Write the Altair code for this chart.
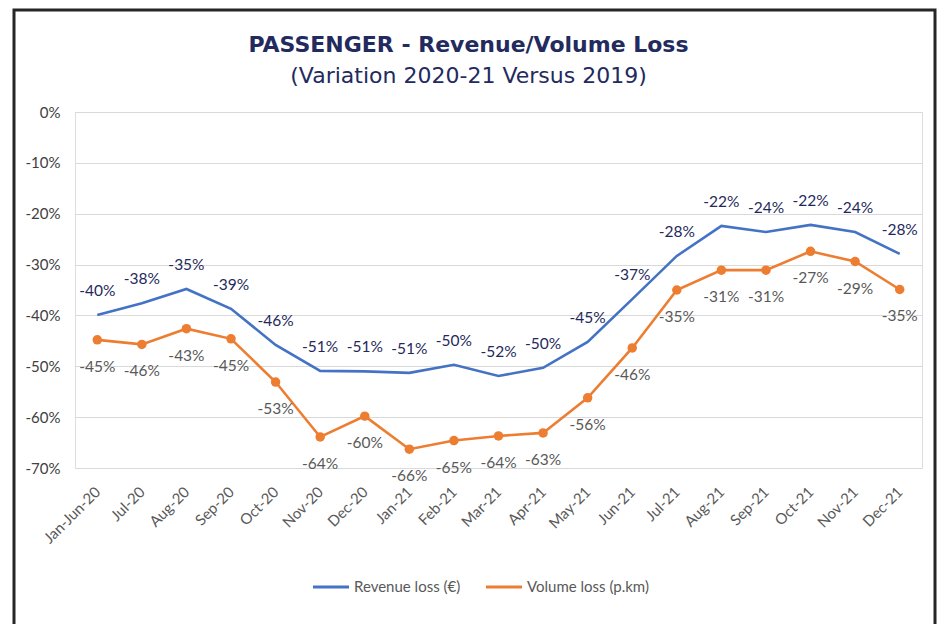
import altair as alt
import pandas as pd

categories = ["Jan-Jun-20", "Jul-20", "Aug-20", "Sep-20", "Oct-20", "Nov-20", "Dec-20",
              "Jan-21", "Feb-21", "Mar-21", "Apr-21", "May-21", "Jun-21", "Jul-21",
              "Aug-21", "Sep-21", "Oct-21", "Nov-21", "Dec-21"]
revenue_loss = [-39.9, -37.6, -34.8, -38.7, -45.8, -50.9, -51.0, -51.3, -49.7, -51.9,
                -50.3, -45.2, -36.8, -28.3, -22.4, -23.6, -22.2, -23.6, -27.9]
volume_loss = [-44.8, -45.7, -42.6, -44.6, -53.1, -63.9, -59.8, -66.3, -64.6, -63.7,
               -63.1, -56.2, -46.4, -35.0, -31.1, -31.1, -27.4, -29.4, -34.9]
series_names = ["Revenue loss (€)", "Volume loss (p.km)"]
y_ticks = [0, -0.1, -0.2, -0.3, -0.4, -0.5, -0.6, -0.7]

rows = []
for name, vals in zip(series_names, [revenue_loss, volume_loss]):
    for c, v in zip(categories, vals):
        rows.append({"cat": c, "series": name, "val": v / 100.0,
                     "label": f"{int(round(v))}%"})
df = pd.DataFrame(rows)

LABEL_FONT = "Lato"
TITLE_FONT = "DejaVu Sans"

x = alt.X("cat:N", sort=categories, title=None,
          scale=alt.Scale(type="point", padding=0.5),
          axis=alt.Axis(labelAngle=-45, labelAlign="right", labelBaseline="middle",
                        labelPadding=21, ticks=False, domain=False, grid=False,
                        labelFont=LABEL_FONT, labelFontSize=15, labelColor="#595959"))
y = alt.Y("val:Q", title=None,
          scale=alt.Scale(domain=[-0.7, 0], nice=False, zero=False),
          axis=alt.Axis(values=y_ticks, labelExpr="round(datum.value*100) + '%'",
                        ticks=False, domain=False, grid=True, gridColor="#D9D9D9",
                        gridWidth=1, labelPadding=15, labelFont=LABEL_FONT,
                        labelFontSize=15, labelColor="#404040"))

color = alt.Color("series:N", title=None,
                  scale=alt.Scale(domain=series_names, range=["#4472C4", "#ED7D31"]),
                  legend=alt.Legend(orient="none", legendX=236, legendY=455,
                                    direction="horizontal", symbolType="stroke",
                                    symbolSize=1300, symbolStrokeWidth=3,
                                    labelFont=LABEL_FONT, labelFontSize=15,
                                    labelColor="#595959", labelOffset=3,
                                    columnPadding=18))

base = alt.Chart(df)

lines = base.mark_line(strokeWidth=2.6).encode(x=x, y=y, color=color)
points = base.transform_filter(alt.datum.series == series_names[1]).mark_circle(
    size=90, opacity=1, color="#ED7D31").encode(x=x, y=y)

rev_text = base.transform_filter(alt.datum.series == series_names[0]).mark_text(
    dy=-24, font=LABEL_FONT, fontSize=15.5, color="#1F2A5C").encode(x=x, y=y, text="label:N")
vol_text = base.transform_filter(alt.datum.series == series_names[1]).mark_text(
    dy=27, font=LABEL_FONT, fontSize=15.5, color="#595959").encode(x=x, y=y, text="label:N")

frame = alt.Chart(pd.DataFrame({"k": [0]})).mark_rect(
    filled=False, stroke="#262626", strokeWidth=3).encode(
    x=alt.value(-61), x2=alt.value(860), y=alt.value(-102), y2=alt.value(600))

chart = alt.layer(frame, lines, points, rev_text, vol_text).properties(
    width=847, height=356,
    title=alt.TitleParams(
        text="PASSENGER - Revenue/Volume Loss",
        subtitle="(Variation 2020-21 Versus 2019)",
        font=TITLE_FONT, fontSize=22, fontWeight="bold", color="#222A5E",
        subtitleFont=TITLE_FONT, subtitleFontSize=22, subtitleColor="#222A5E",
        subtitleFontWeight="normal", subtitlePadding=9,
        anchor="middle", frame="group", dx=-30, offset=-79),
    autosize=alt.AutoSizeParams(type="none"),
    padding={"left": 67, "top": 104, "right": 15, "bottom": 156},
).configure_view(stroke=None).configure(background="white")

chart.save("out.html", embed_options={"renderer": "svg", "actions": False})
